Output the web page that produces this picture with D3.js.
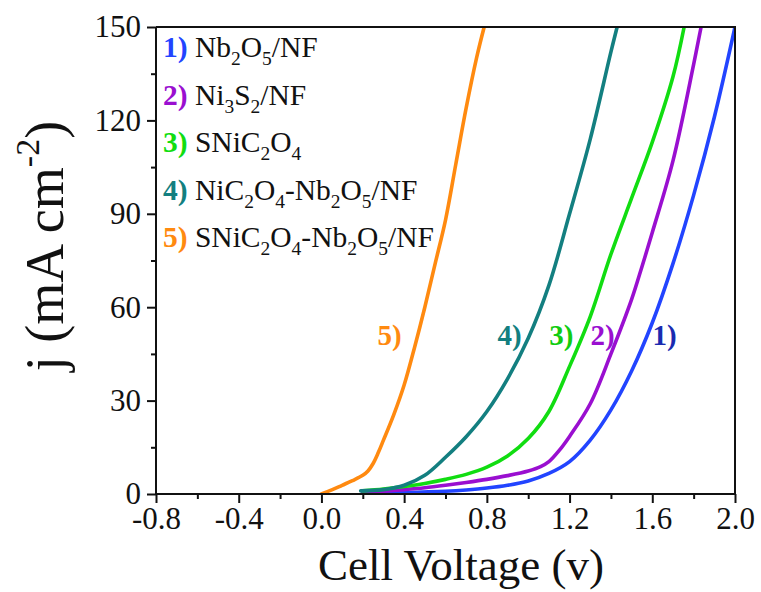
<!DOCTYPE html>
<html>
<head>
<meta charset="utf-8">
<script src="https://cdn.jsdelivr.net/npm/d3@7"></script>
<style>
  html, body { margin: 0; padding: 0; background: #fff; }
  svg { display: block; }
  svg text { font-family: "Times New Roman", "Liberation Serif", Times, serif; }
</style>
</head>
<body>
<svg id="chart" width="761" height="592"></svg>
<script>
// Polarization curves: cell voltage (V) vs current density j (mA cm^-2)
const labels = ["1)", "2)", "3)", "4)", "5)"];
const legendNames = ["Nb_2O_5/NF", "Ni_3S_2/NF", "SNiC_2O_4", "NiC_2O_4-Nb_2O_5/NF", "SNiC_2O_4-Nb_2O_5/NF"];

const v1 = [0.20, 0.40, 0.60, 0.70, 0.80, 0.90, 1.00, 1.10, 1.20, 1.30, 1.40, 1.50, 1.60, 1.70, 1.80, 1.90, 2.00];
const j1 = [0.3, 0.5, 0.9, 1.3, 1.9, 2.8, 4.2, 6.6, 10.4, 17.3, 27, 39.5, 55, 74, 96, 121, 150];

const v2 = [0.20, 0.30, 0.40, 0.50, 0.60, 0.70, 0.80, 0.90, 1.00, 1.06, 1.10, 1.15, 1.20, 1.30, 1.40, 1.50, 1.55, 1.60, 1.70, 1.80, 1.836];
const j2 = [0.5, 0.9, 1.4, 2.0, 2.8, 3.7, 4.7, 5.9, 7.4, 8.8, 10.4, 14.0, 18.5, 29, 45, 62.5, 73, 84, 107, 138, 150];

const v3 = [0.20, 0.30, 0.40, 0.50, 0.60, 0.70, 0.80, 0.90, 1.00, 1.10, 1.20, 1.30, 1.40, 1.50, 1.60, 1.70, 1.754];
const j3 = [1.0, 1.6, 2.4, 3.4, 4.7, 6.3, 8.6, 12.2, 17.8, 26.5, 41, 57, 77, 95, 113, 134, 150];

const v4 = [0.19, 0.30, 0.40, 0.50, 0.60, 0.70, 0.80, 0.90, 1.00, 1.10, 1.20, 1.30, 1.40, 1.43];
const j4 = [1.0, 1.4, 2.8, 6.0, 11.8, 18.4, 26.5, 37, 50, 67, 90, 114, 142, 150];

const v5 = [0.00, 0.05, 0.10, 0.15, 0.20, 0.225, 0.25, 0.275, 0.30, 0.35, 0.40, 0.45, 0.50, 0.55, 0.60, 0.65, 0.70, 0.75, 0.787];
const j5 = [0, 1.3, 2.8, 4.3, 6.0, 7.4, 9.8, 13.3, 17.3, 25.5, 35, 47, 60, 74, 88, 106, 124, 140, 150];

const seriesV = [v1, v2, v3, v4, v5];
const seriesJ = [j1, j2, j3, j4, j5];
const colors = ["#2244ff", "#9a0fd0", "#11dd11", "#137f80", "#ff8a10"];
const labelColors = ["#1a2bb0", "#9a0fd0", "#11cc11", "#137f80", "#ff8a10"];
// curve labels sit at this current density, just left of each curve
const labelJ = 48;
const labelV = [1.66, 1.36, 1.16, 0.91, 0.33];

const xTicks = [-0.8, -0.4, 0.0, 0.4, 0.8, 1.2, 1.6, 2.0];
const xMinor = [-0.6, -0.2, 0.2, 0.6, 1.0, 1.4, 1.8];
const yTicks = [0, 30, 60, 90, 120, 150];
const yMinor = [15, 45, 75, 105, 135];

const svg = d3.select("#chart");
const m = { left: 156, right: 735, top: 27, bottom: 494 };

const x = d3.scaleLinear().domain([-0.8, 2.0]).range([m.left, m.right]);
const y = d3.scaleLinear().domain([0, 150]).range([m.bottom, m.top]);

// curves (clipped to the plot area)
svg.append("clipPath").attr("id", "plotclip")
  .append("rect").attr("x", m.left).attr("y", m.top - 1)
  .attr("width", m.right - m.left + 1).attr("height", m.bottom - m.top + 1);

const line = d3.line()
  .x(d => x(d[0])).y(d => y(d[1]))
  .curve(d3.curveCatmullRom.alpha(0.5));

const plot = svg.append("g").attr("clip-path", "url(#plotclip)");
seriesV.forEach((vs, i) => {
  const pts = vs.map((v, k) => [v, seriesJ[i][k]]);
  plot.append("path")
    .attr("d", line(pts))
    .attr("fill", "none")
    .attr("stroke", colors[i])
    .attr("stroke-width", 3.6)
    .attr("stroke-linejoin", "round")
    .attr("stroke-linecap", "round");
});

// axes
const fontSize = 31;
const xAxis = d3.axisBottom(x).tickValues(xTicks).tickSize(9).tickPadding(4);
const gx = svg.append("g").attr("transform", `translate(0,${m.bottom})`).call(xAxis);
gx.attr("font-family", null);
gx.selectAll("text").attr("font-size", fontSize).attr("fill", "#111")
  .text(d => d3.format(".1f")(d).replace("\u2212", "-"));
svg.append("g").attr("transform", `translate(0,${m.bottom})`)
  .call(d3.axisBottom(x).tickValues(xMinor).tickSize(5).tickFormat(""))
  .select(".domain").remove();

const yAxis = d3.axisLeft(y).tickValues(yTicks).tickSize(9).tickPadding(6);
const gy = svg.append("g").attr("transform", `translate(${m.left},0)`).call(yAxis);
gy.attr("font-family", null);
gy.selectAll("text").attr("font-size", fontSize).attr("fill", "#111");
svg.append("g").attr("transform", `translate(${m.left},0)`)
  .call(d3.axisLeft(y).tickValues(yMinor).tickSize(5).tickFormat(""))
  .select(".domain").remove();

svg.selectAll(".domain, .tick line").attr("stroke", "#111").attr("stroke-width", 2);
gx.select(".domain").attr("d", `M${m.left},0H${m.right}`);
gy.select(".domain").attr("d", `M0,${m.top}V${m.bottom}`);

// top and right frame
svg.append("path")
  .attr("d", `M${m.left},${m.top}H${m.right}V${m.bottom}`)
  .attr("fill", "none").attr("stroke", "#111").attr("stroke-width", 2);

// axis titles
svg.append("text")
  .attr("x", 461).attr("y", 580)
  .attr("text-anchor", "middle").attr("font-size", 45).attr("fill", "#111")
  .text("Cell Voltage (v)");

const yt = svg.append("text")
  .attr("transform", `translate(63,246) rotate(-90)`)
  .attr("text-anchor", "middle").attr("font-size", 54).attr("fill", "#111");
yt.append("tspan").text("j (mA cm");
yt.append("tspan").attr("font-size", 34).attr("dy", -24).text("-2");
yt.append("tspan").attr("dy", 24).text(")");

// writes "A_2B" style names with subscripts
function richText(sel, str, size) {
  const parts = str.split(/_(\d)/);
  parts.forEach((p, k) => {
    if (!p) return;
    if (k % 2 === 1) {
      sel.append("tspan").attr("font-size", size * 0.66).attr("dy", 8).text(p);
      sel.append("tspan").attr("font-size", size).attr("dy", -8).text("\u200B");
    } else {
      sel.append("tspan").attr("font-size", size).text(p);
    }
  });
}

// legend
const legendSize = 29.5;
legendNames.forEach((name, i) => {
  const ty = 57 + i * 47.5;
  const t = svg.append("text").attr("x", 163).attr("y", ty).attr("fill", "#111");
  t.append("tspan").attr("font-weight", "bold").attr("fill", colors[i])
    .attr("font-size", legendSize).text(labels[i]);
  t.append("tspan").attr("font-size", legendSize).text(" ");
  richText(t, name, legendSize);
});

// curve labels
labels.forEach((lab, i) => {
  svg.append("text")
    .attr("x", x(labelV[i])).attr("y", y(labelJ))
    .attr("fill", labelColors[i]).attr("font-weight", "bold")
    .attr("font-size", 29).attr("text-anchor", "middle")
    .text(lab);
});
</script>
</body>
</html>
